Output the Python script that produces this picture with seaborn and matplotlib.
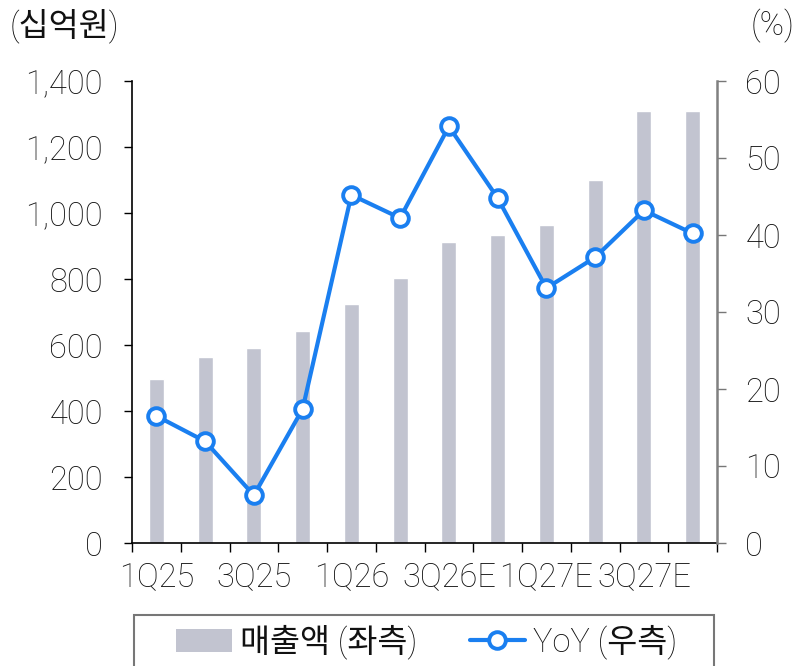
import numpy as np
import matplotlib
matplotlib.use('Agg')
import matplotlib.pyplot as plt
import seaborn as sns
from matplotlib.patches import Patch, Rectangle
from matplotlib.lines import Line2D

# ---- data ----
quarters = ['1Q25', '2Q25', '3Q25', '4Q25', '1Q26', '2Q26E',
            '3Q26E', '4Q26E', '1Q27E', '2Q27E', '3Q27E', '4Q27E']
sales = [497, 563, 591, 643, 724, 802, 911, 932, 963, 1100, 1309, 1309]
yoy = [16.5, 13.2, 6.2, 17.4, 45.2, 42.2, 54.1, 44.8, 33.1, 37.1, 43.2, 40.2]
left_ticks = [0, 200, 400, 600, 800, 1000, 1200, 1400]
left_labels = ['0', '200', '400', '600', '800', '1,000', '1,200', '1,400']
right_ticks = [0, 10, 20, 30, 40, 50, 60]
shown_labels = quarters[::2]
legend_labels = ['매출액 (좌측)', 'YoY (우측)']

BAR = '#c2c4d0'
BLUE = '#1a7ff0'
TXT = '#111111'
FS = 23.5

sns.set_theme(style='white')
plt.rcParams['font.family'] = ['Roboto', 'Noto Sans CJK KR', 'DejaVu Sans']
plt.rcParams['font.weight'] = 'light'

fig = plt.figure(figsize=(7.97, 6.66), dpi=100)
ax = fig.add_axes([132/797, 1-543/666, (717-132)/797, (543-81)/666])

sns.barplot(x=quarters, y=sales, ax=ax, color=BAR, width=0.31, saturation=1)
ax.set_xlim(-0.5, 11.5)
ax.set_ylim(0, 1400)
ax.set_yticks(left_ticks)
ax.set_yticklabels(left_labels)
ax.set_xticks(range(0, 12, 2))
ax.set_xticklabels(shown_labels)
ax.set_xticks(np.arange(-0.5, 12, 1), minor=True)
ax.set_xlabel('')
ax.set_ylabel('')
ax.tick_params(axis='x', which='major', length=0, pad=13, labelsize=FS, labelcolor=TXT)
ax.tick_params(axis='x', which='minor', length=6.5, width=1, color='black', direction='out', bottom=True)
ax.tick_params(axis='y', length=6, width=1, color='black', direction='out', pad=15,
               labelsize=FS, labelcolor=TXT, left=True)
for s in ['top', 'right']:
    ax.spines[s].set_visible(False)
for s in ['left', 'bottom']:
    ax.spines[s].set_color('black')
    ax.spines[s].set_linewidth(1.2)

ax2 = ax.twinx()
sns.lineplot(x=np.arange(len(yoy)), y=yoy, ax=ax2, color=BLUE, linewidth=3,
             marker='o', markersize=12, markerfacecolor='white',
             markeredgecolor=BLUE, markeredgewidth=2.8)
ax2.set_xlim(-0.5, 11.5)
ax2.set_ylim(0, 60)
ax2.set_yticks(right_ticks)
ax2.set_ylabel('')
ax2.tick_params(axis='y', length=6.5, width=1, color='#777777', direction='out', pad=14,
                labelsize=FS, labelcolor=TXT, right=True)
for s in ['top', 'left', 'bottom']:
    ax2.spines[s].set_visible(False)
ax2.spines['right'].set_color('#808080')
ax2.spines['right'].set_linewidth(1.8)

fig.text(10/797, 1-26/666, '(십억원)', ha='left', va='center', fontsize=FS, color=TXT)
fig.text(795/797, 1-26/666, '(%)', ha='right', va='center', fontsize=FS, color=TXT)

handles = [Patch(facecolor=BAR, edgecolor='none'),
           Line2D([], [], color=BLUE, linewidth=3, marker='o', markersize=12,
                  markerfacecolor='white', markeredgecolor=BLUE, markeredgewidth=2.8)]
fig.legend(handles, legend_labels, loc='center', bbox_to_anchor=(427/797, 1-642/666),
           ncol=2, frameon=False, prop={'size': FS},
           handlelength=1.7, handletextpad=0.25, columnspacing=1.6, labelcolor=TXT)
fig.add_artist(Rectangle((134/797, -0.1), (714-134)/797, 0.1 + (666-615)/666,
                         transform=fig.transFigure, fill=False, edgecolor='#777777',
                         linewidth=1.5))

fig.savefig('out.png', dpi=100)
